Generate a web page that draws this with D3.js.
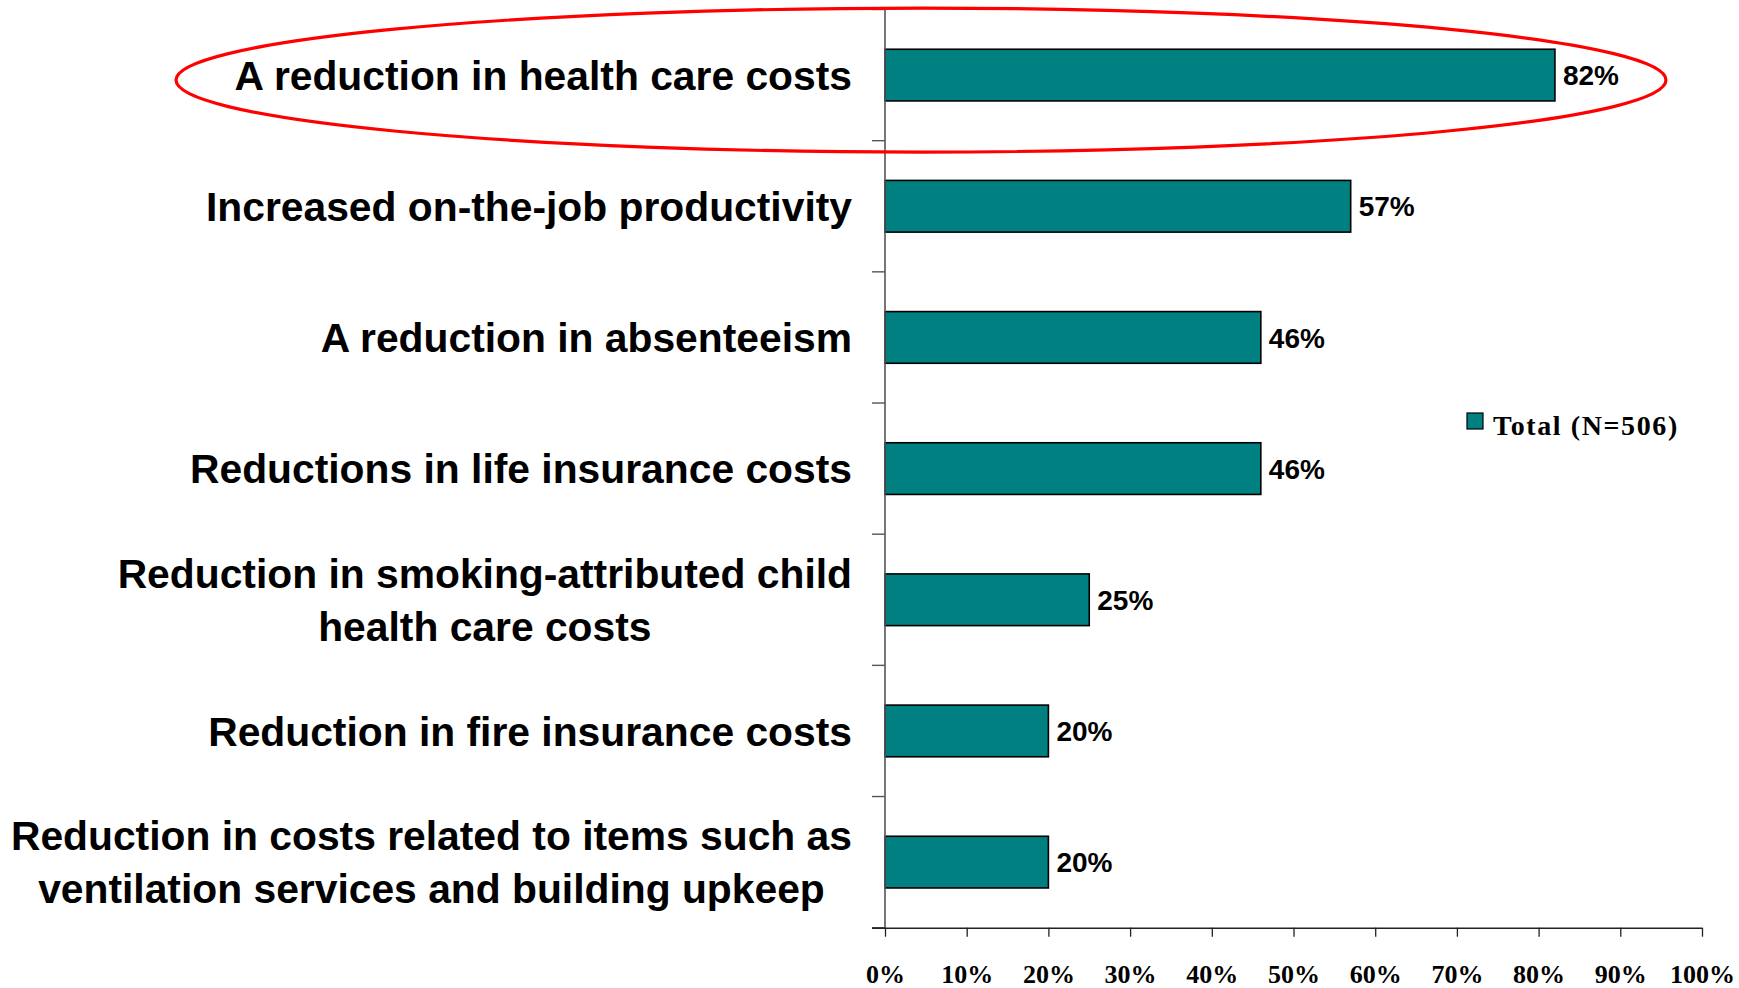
<!DOCTYPE html>
<html>
<head>
<meta charset="utf-8">
<script src="https://cdn.jsdelivr.net/npm/d3@7"></script>
<style>
  html, body { margin: 0; padding: 0; background: #ffffff; }
  svg { display: block; }
</style>
</head>
<body>
<svg id="chart" width="1739" height="988"></svg>
<script>
// Perceived benefits of smoking cessation, share of respondents
const categories = [
  ["A reduction in health care costs"],
  ["Increased on-the-job productivity"],
  ["A reduction in absenteeism"],
  ["Reductions in life insurance costs"],
  ["Reduction in smoking-attributed child", "health care costs"],
  ["Reduction in fire insurance costs"],
  ["Reduction in costs related to items such as", "ventilation services and building upkeep"]
];
const values = [82, 57, 46, 46, 25, 20, 20];
const seriesName = "Total (N=506)";
const xTicks = [0, 10, 20, 30, 40, 50, 60, 70, 80, 90, 100];
const highlighted = 0; // index of the circled category

const W = 1739, H = 988;
const margin = { top: 9.5, right: 37, bottom: 60.3, left: 885 };
const svg = d3.select("#chart");

const keys = categories.map((c, i) => i);
const x = d3.scaleLinear().domain([0, 100]).range([margin.left, W - margin.right]);
const y = d3.scaleBand().domain(keys).range([margin.top, H - margin.bottom])
  .paddingInner(0.606).paddingOuter(0.303);
const step = y.step();
const slotTop = i => y(i) - y.paddingInner() * step / 2;

// Bars
svg.append("g").selectAll("rect").data(values).join("rect")
  .attr("x", x(0))
  .attr("y", (d, i) => y(i))
  .attr("width", d => x(d) - x(0))
  .attr("height", y.bandwidth())
  .attr("fill", "#008080")
  .attr("stroke", "#000")
  .attr("stroke-width", 1.6);

// Value labels
svg.append("g").selectAll("text").data(values).join("text")
  .attr("x", d => x(d) + 8)
  .attr("y", (d, i) => y(i) + y.bandwidth() / 2)
  .attr("dy", "0.36em")
  .attr("font-family", "'Liberation Sans', Arial, sans-serif")
  .attr("font-weight", "bold")
  .attr("font-size", 28)
  .attr("fill", "#000")
  .text(d => d + "%");

// Vertical (category) axis line with ticks at slot boundaries
const yAxisG = svg.append("g");
yAxisG.append("line")
  .attr("x1", x(0)).attr("x2", x(0))
  .attr("y1", margin.top).attr("y2", H - margin.bottom)
  .attr("stroke", "#555").attr("stroke-width", 1.6);
const boundaries = d3.range(categories.length + 1);
yAxisG.selectAll("line.tick").data(boundaries).join("line")
  .attr("class", "tick")
  .attr("x1", x(0) - 13).attr("x2", x(0))
  .attr("y1", i => i < categories.length ? slotTop(i) : H - margin.bottom)
  .attr("y2", i => i < categories.length ? slotTop(i) : H - margin.bottom)
  .attr("stroke", "#555").attr("stroke-width", 1.4);

// Horizontal value axis
const xAxis = d3.axisBottom(x).tickValues(xTicks).tickSize(9).tickSizeOuter(0)
  .tickFormat(d => d + "%");
const xAxisG = svg.append("g")
  .attr("transform", `translate(0,${H - margin.bottom})`)
  .call(xAxis);
xAxisG.select(".domain")
  .attr("d", `M${x(0) - 13},0.5H${x(100)}`)
  .attr("stroke", "#222").attr("stroke-width", 1.4);
xAxisG.selectAll(".tick line").attr("stroke", "#222").attr("stroke-width", 1.3);
xAxisG.selectAll(".tick text")
  .attr("y", 55).attr("dy", 0)
  .attr("font-family", "'Liberation Serif', 'Times New Roman', serif")
  .attr("font-weight", "bold")
  .attr("font-size", 26)
  .attr("fill", "#000");

// Category labels, each block right-aligned, lines centred within the block
const labelRight = x(0) - 33;
const lineGap = 53.3;
const labelG = svg.append("g")
  .attr("font-family", "'Liberation Sans', Arial, sans-serif")
  .attr("font-weight", "bold")
  .attr("font-size", 40.8)
  .attr("fill", "#000");
categories.forEach((lines, i) => {
  const cy = y(i) + y.bandwidth() / 2;
  const g = labelG.append("g");
  const texts = lines.map((ln, k) => g.append("text")
    .attr("y", cy + (k - (lines.length - 1) / 2) * lineGap)
    .attr("dy", "0.36em")
    .text(ln));
  const widths = texts.map(t => t.node().getComputedTextLength());
  const maxW = d3.max(widths);
  texts.forEach(t => t.attr("text-anchor", "middle").attr("x", labelRight - maxW / 2));
});

// Legend
const legend = svg.append("g").attr("transform", "translate(1467,413)");
legend.append("rect")
  .attr("width", 16).attr("height", 16)
  .attr("fill", "#008080").attr("stroke", "#000").attr("stroke-width", 1.2);
legend.append("text")
  .attr("x", 26).attr("y", 22)
  .attr("font-family", "'Liberation Serif', 'Times New Roman', serif")
  .attr("font-weight", "bold")
  .attr("font-size", 28)
  .attr("letter-spacing", 1.6)
  .attr("fill", "#000")
  .text(seriesName);

// Highlight ring around the top category
const hy = y(highlighted) + y.bandwidth() / 2 + 5;
svg.append("ellipse")
  .attr("cx", 921).attr("cy", hy)
  .attr("rx", 745).attr("ry", 72)
  .attr("fill", "none")
  .attr("stroke", "#ff0000")
  .attr("stroke-width", 3.2);
</script>
</body>
</html>
